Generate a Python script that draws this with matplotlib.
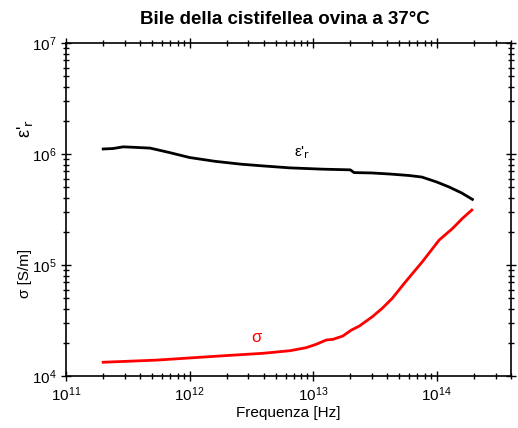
import numpy as np
import matplotlib.pyplot as plt
from matplotlib.ticker import LogLocator, NullFormatter

plt.rcParams["font.family"] = ["Liberation Sans", "DejaVu Sans"]

# permittivita' relativa (curva nera)
f_eps = [2.0e11, 2.4e11, 2.9e11, 3.5e11, 4.8e11, 6.9e11, 1.0e12, 1.6e12,
         2.6e12, 4.0e12, 6.5e12, 1.2e13, 2.0e13, 2.15e13, 3.0e13, 4.2e13,
         6.0e13, 7.6e13, 1.0e14, 1.26e14, 1.6e14, 1.95e14]
eps = [1.11e6, 1.12e6, 1.16e6, 1.15e6, 1.13e6, 1.03e6, 9.3e5, 8.6e5,
       8.1e5, 7.8e5, 7.5e5, 7.3e5, 7.2e5, 6.8e5, 6.75e5, 6.6e5,
       6.4e5, 6.2e5, 5.6e5, 5.05e5, 4.45e5, 3.9e5]

# conducibilita' (curva rossa)
f_sig = [2.0e11, 5.4e11, 1.85e12, 3.9e12, 6.5e12, 8.8e12, 1.06e13,
         1.28e13, 1.45e13, 1.74e13, 2.04e13, 2.37e13, 3.02e13, 3.63e13,
         4.37e13, 5.62e13, 7.67e13, 1.05e14, 1.35e14, 1.62e14, 1.93e14]
sig = [1.33e4, 1.39e4, 1.52e4, 1.60e4, 1.69e4, 1.80e4, 1.93e4,
       2.11e4, 2.14e4, 2.29e4, 2.59e4, 2.82e4, 3.42e4, 4.07e4,
       5.0e4, 7.08e4, 1.07e5, 1.68e5, 2.14e5, 2.63e5, 3.13e5]

fig = plt.figure(figsize=(5.18, 4.28), dpi=100)
ax = fig.add_axes([0.1274, 0.1215, 0.859, 0.778])

ax.plot(f_eps, eps, color="black", lw=2)
ax.plot(f_sig, sig, color="red", lw=2)

ax.set_xscale("log")
ax.set_yscale("log")
ax.set_xlim(1e11, 4e14)
ax.set_ylim(1e4, 1e7)

ax.xaxis.set_major_locator(LogLocator(base=10, numticks=10))
ax.xaxis.set_minor_locator(LogLocator(base=10, subs=np.arange(2, 10), numticks=20))
ax.yaxis.set_minor_locator(LogLocator(base=10, subs=np.arange(2, 10), numticks=20))
ax.xaxis.set_minor_formatter(NullFormatter())
ax.yaxis.set_minor_formatter(NullFormatter())

ax.tick_params(which="both", top=True, right=True, direction="inout",
               labelsize=11, width=1)
ax.tick_params(which="major", length=7)
ax.tick_params(which="minor", length=5)
for s in ax.spines.values():
    s.set_linewidth(1.2)

ax.text(8.1e12, 1.02e6, "ε'$_{\\rm r}$", fontsize=11, ha="center", va="center")
ax.text(3.5e12, 2.2e4, "σ", fontsize=12, color="red", ha="center", va="center")

ax.set_xlabel("Frequenza [Hz]", fontsize=11, labelpad=1)
fig.text(0.048, 0.362, "σ [S/m]", rotation=90, fontsize=11, ha="center", va="center")
fig.text(0.048, 0.70, "ε'$_{\\rm r}$", rotation=90, fontsize=13, ha="center", va="center")

fig.suptitle("Bile della cistifellea ovina a 37°C", fontsize=13.5,
             fontweight="bold", x=0.55, y=0.975)

fig.savefig("out.png", dpi=100)
